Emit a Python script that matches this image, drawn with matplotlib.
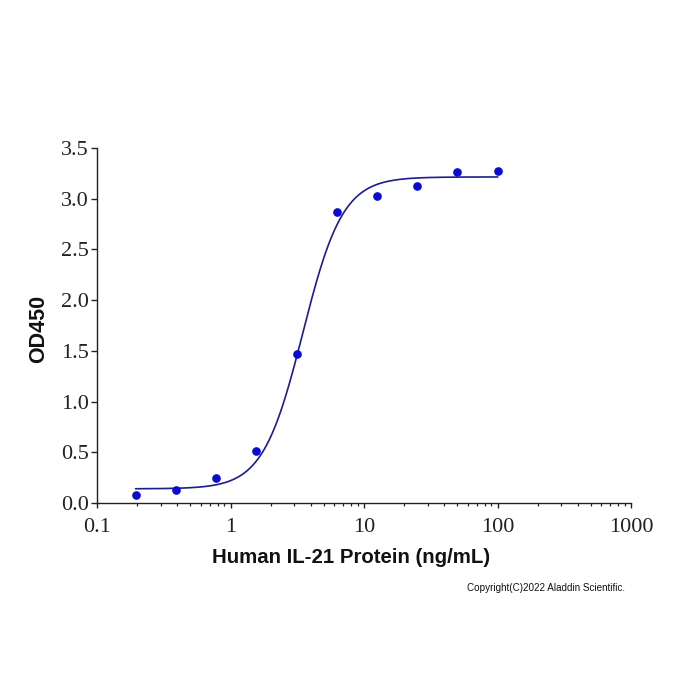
import matplotlib
matplotlib.use("Agg")
import matplotlib.pyplot as plt
import numpy as np

# Данные
conc = [0.195, 0.39, 0.78, 1.56, 3.125, 6.25, 12.5, 25, 50, 100]
od450 = [0.076, 0.125, 0.247, 0.517, 1.465, 2.87, 3.03, 3.13, 3.265, 3.275]

# Параметры 4PL-аппроксимации
fit_bottom = 0.14
fit_top = 3.215
fit_ec50 = 3.48
fit_hill = 2.9

x_ticks = [0.1, 1, 10, 100, 1000]
x_tick_labels = ["0.1", "1", "10", "100", "1000"]
y_ticks = [0.0, 0.5, 1.0, 1.5, 2.0, 2.5, 3.0, 3.5]

serif = "Liberation Serif"
sans = "Liberation Sans"

fig = plt.figure(figsize=(7, 7), dpi=100)
ax = fig.add_axes([0.1386, 0.2814, 0.7629, 0.5071])

# Кривая аппроксимации
xs = np.logspace(np.log10(conc[0]), np.log10(conc[-1]), 400)
ys = fit_top + (fit_bottom - fit_top) / (1 + (xs / fit_ec50) ** fit_hill)
ax.plot(xs, ys, color="#1c1c8e", linewidth=1.2, zorder=2)

# Точки
ax.plot(conc, od450, linestyle="none", marker="o", markersize=5.2,
        color="#0a0ad0", zorder=3)

ax.set_xscale("log")
ax.set_xlim(0.1, 1000)
ax.set_ylim(0, 3.5)
ax.set_xticks(x_ticks)
ax.set_xticklabels(x_tick_labels)
ax.set_yticks(y_ticks)
ax.set_yticklabels([f"{v:.1f}" for v in y_ticks])

for side in ["top", "right"]:
    ax.spines[side].set_visible(False)
for side in ["left", "bottom"]:
    ax.spines[side].set_linewidth(1.0)
    ax.spines[side].set_color("#222222")

ax.tick_params(axis="y", which="major", direction="out", length=4.3,
               width=1.0, color="#222222", labelsize=16, pad=1.5)
ax.tick_params(axis="x", which="major", direction="out", length=3.6,
               width=1.0, color="#222222", labelsize=16, pad=7.5)
ax.tick_params(axis="x", which="minor", direction="out", length=2.2,
               width=0.9, color="#222222")
for lbl in ax.get_xticklabels() + ax.get_yticklabels():
    lbl.set_fontfamily(serif)
    lbl.set_color("#222222")

ax.set_xlabel("Human IL-21 Protein (ng/mL)", fontsize=14.7,
              fontweight="bold", fontfamily=sans, color="#111111")
ax.xaxis.set_label_coords(0.476, -0.127)
ax.set_ylabel("OD450", fontsize=15.5, fontweight="bold", fontfamily=sans,
              color="#111111")
ax.yaxis.set_label_coords(-0.09, 0.49)

fig.text(625 / 700, 1 - 588 / 700, "Copyright(C)2022 Aladdin Scientific.",
         ha="right", va="center", fontsize=7.1, fontfamily=sans,
         color="#111111")

fig.savefig("out.png", dpi=100, facecolor="white")
